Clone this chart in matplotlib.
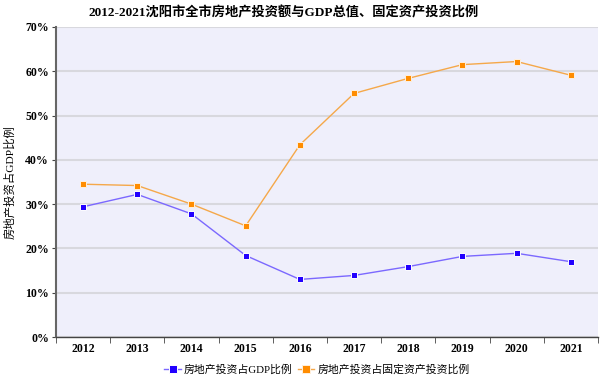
import numpy as np
import matplotlib
matplotlib.use('Agg')
import matplotlib.pyplot as plt
from matplotlib.ticker import FixedLocator, PercentFormatter

plt.rcParams['font.family'] = ['Liberation Serif', 'Noto Sans CJK SC']

years = ['2012', '2013', '2014', '2015', '2016', '2017', '2018', '2019', '2020', '2021']
gdp_ratio = [29.4, 32.2, 27.8, 18.4, 13.0, 13.9, 15.9, 18.2, 18.9, 17.0]
fixed_ratio = [34.5, 34.2, 30.0, 25.1, 43.4, 55.0, 58.4, 61.5, 62.2, 59.1]
labels = ['房地产投资占GDP比例', '房地产投资占固定资产投资比例']
title = '2012-2021沈阳市全市房地产投资额与GDP总值、固定资产投资比例'
ylabel = '房地产投资占GDP比例'

fig = plt.figure(figsize=(6.04, 3.79), dpi=100)
ax = fig.add_axes([0.0927, 0.1108, 0.8973, 0.818])
ax.set_facecolor('#efeffb')

x = np.arange(len(years))
ax.plot(x, gdp_ratio, color='#7b68ff', lw=1.0, marker='s', ms=4.8,
        mfc='#2200ff', mec='white', mew=0.7, label=labels[0], zorder=3)
ax.plot(x, fixed_ratio, color='#f5a84a', lw=1.0, marker='s', ms=4.8,
        mfc='#ff8c00', mec='#fff0dd', mew=0.7, label=labels[1], zorder=3)

ax.set_xlim(-0.5, len(years) - 0.5)
ax.set_ylim(0, 70)
ax.set_yticks(np.arange(0, 71, 10))
ax.yaxis.set_major_formatter(PercentFormatter(decimals=0))
ax.grid(axis='y', color='#d8d8de', lw=1.5)
ax.set_axisbelow(True)

ax.set_xticks(x)
ax.set_xticklabels(years)
ax.xaxis.set_minor_locator(FixedLocator(np.arange(-0.5, len(years), 1)))
ax.tick_params(axis='x', which='major', length=0, pad=4)
ax.tick_params(axis='x', which='minor', length=4, color='#444444')
ax.tick_params(axis='y', length=3, color='#444444', pad=2)
for lab in ax.get_xticklabels() + ax.get_yticklabels():
    lab.set_fontsize(8.5)
    lab.set_fontweight('bold')

for s in ['top', 'right']:
    ax.spines[s].set_visible(False)
ax.spines['left'].set_color('#666666')
ax.spines['left'].set_linewidth(1.5)
ax.spines['bottom'].set_color('#444444')
ax.spines['bottom'].set_linewidth(1.0)

ax.set_ylabel(ylabel, fontsize=8.2, va='center')
ax.yaxis.set_label_coords(-0.085, 0.5)
fig.text(0.47, 0.966, title, ha='center', va='center', fontsize=9.5, fontweight='bold')

fig.legend(loc='center', bbox_to_anchor=(0.525, 0.024), ncol=2, frameon=False,
           fontsize=7.8, handlelength=1.5, columnspacing=0.5, handletextpad=0.3,
           markerscale=1.3, borderaxespad=0)

fig.savefig('out.png', dpi=100)
